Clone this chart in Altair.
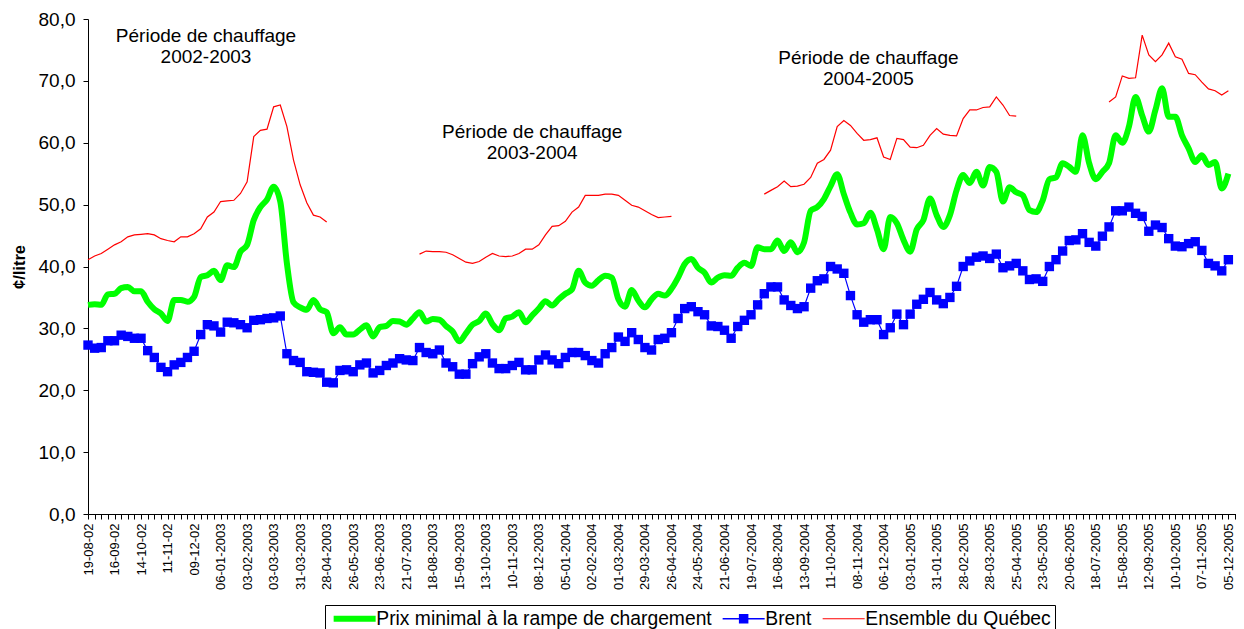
import json
import altair as alt
import pandas as pd

# ---------------- data ----------------
tick_labels = [
    "19-08-02", "16-09-02", "14-10-02", "11-11-02", "09-12-02", "06-01-2003",
    "03-02-2003", "03-03-2003", "31-03-2003", "28-04-2003", "26-05-2003",
    "23-06-2003", "21-07-2003", "18-08-2003", "15-09-2003", "13-10-2003",
    "10-11-2003", "08-12-2003", "05-01-2004", "02-02-2004", "01-03-2004",
    "29-03-2004", "26-04-2004", "24-05-2004", "21-06-2004", "19-07-2004",
    "16-08-2004", "13-09-2004", "11-10-2004", "08-11-2004", "06-12-2004",
    "03-01-2005", "31-01-2005", "28-02-2005", "28-03-2005", "25-04-2005",
    "23-05-2005", "20-06-2005", "18-07-2005", "15-08-2005", "12-09-2005",
    "10-10-2005", "07-11-2005", "05-12-2005",
]

prix_minimal = [
    33.8, 33.9, 33.8, 35.5, 35.6, 36.5, 36.7, 36.0, 36.0, 34.3,
    33.1, 32.4, 31.2, 34.6, 34.6, 34.3, 35.1, 38.3, 38.6, 39.3,
    37.8, 40.2, 39.9, 42.4, 43.5, 47.5, 49.6, 50.8, 52.9, 50.5,
    40.5, 34.2, 33.4, 33.0, 34.6, 33.1, 32.6, 29.2, 30.2, 29.0,
    29.0, 29.8, 30.5, 28.7, 30.2, 30.4, 31.2, 31.1, 30.6, 31.6,
    32.6, 31.1, 31.5, 31.4, 30.4, 29.5, 27.9, 29.2, 30.6, 31.2,
    32.4, 30.7, 29.7, 31.6, 31.9, 32.6, 31.0, 32.1, 33.2, 34.4,
    33.7, 34.7, 35.6, 36.3, 39.3, 37.4, 36.9, 37.8, 38.5, 38.2,
    34.7, 33.5, 36.2, 34.5, 33.4, 34.7, 35.6, 35.3, 36.4, 38.2,
    40.4, 41.2, 39.8, 39.0, 37.4, 38.2, 38.6, 38.5, 39.8, 40.6,
    40.1, 43.1, 42.8, 42.8, 44.2, 42.5, 43.9, 42.3, 43.9, 49.0,
    49.6, 50.9, 53.0, 54.9, 51.7, 48.7, 46.8, 47.0, 48.7, 46.0,
    42.8, 48.0, 47.0, 44.3, 42.4, 46.0, 47.5, 51.0, 48.3, 46.4,
    48.3, 52.3, 54.8, 53.5, 55.3, 53.1, 56.1, 55.3, 50.5, 52.8,
    52.0, 51.5, 49.1, 48.8, 50.7, 54.1, 54.4, 56.7, 56.1, 55.3,
    61.2, 56.7, 54.1, 55.3, 56.7, 61.2, 60.0, 62.6, 67.4, 64.4,
    61.8, 65.3, 68.8, 64.2, 64.2, 61.2, 59.1, 56.9, 58.0, 56.4,
    56.9, 52.6, 55.0,
]

brent = [
    27.3, 26.8, 26.9, 28.0, 28.0, 28.9, 28.7, 28.4, 28.4, 26.4,
    25.3, 23.7, 23.0, 24.1, 24.5, 25.3, 26.3, 29.0, 30.6, 30.4,
    29.4, 31.0, 30.9, 30.6, 30.1, 31.3, 31.4, 31.6, 31.7, 32.0,
    25.9, 24.8, 24.5, 23.0, 22.9, 22.8, 21.3, 21.2, 23.2, 23.3,
    23.0, 24.1, 24.4, 22.8, 23.2, 24.0, 24.4, 25.1, 24.9, 24.8,
    26.9, 26.1, 25.9, 26.5, 24.4, 23.8, 22.6, 22.6, 24.3, 25.4,
    25.9, 24.4, 23.5, 23.5, 24.0, 24.5, 23.3, 23.3, 24.9, 25.7,
    24.9, 24.3, 25.3, 26.1, 26.1, 25.6, 24.8, 24.4, 25.9, 26.9,
    28.6, 27.9, 29.3, 28.2, 26.9, 26.5, 28.2, 28.4, 29.3, 31.6,
    33.2, 33.5, 32.7, 32.2, 30.4, 30.3, 29.7, 28.4, 30.3, 31.3,
    32.2, 33.8, 35.6, 36.7, 36.7, 34.6, 33.7, 33.2, 33.5, 36.5,
    37.7, 38.0, 40.0, 39.6, 38.9, 35.3, 32.2, 31.0, 31.4, 31.4,
    29.0, 30.1, 32.3, 30.6, 32.3, 33.9, 34.7, 35.8, 34.6, 34.0,
    35.0, 36.8, 40.0, 40.9, 41.5, 41.7, 41.3, 42.0, 39.8, 40.1,
    40.5, 39.3, 37.9, 38.0, 37.6, 40.0, 41.1, 42.5, 44.2, 44.3,
    45.3, 43.9, 43.3, 44.9, 46.4, 49.0, 49.0, 49.6, 48.6, 48.1,
    45.7, 46.7, 46.3, 44.5, 43.3, 43.2, 43.7, 44.0, 42.6, 40.5,
    40.1, 39.3, 41.1,
]

# None = no value for that week (outside the heating periods)
ensemble_quebec = [
    41.1, 41.7, 42.1, 42.8, 43.5, 44.0, 44.8, 45.1, 45.2, 45.3,
    45.1, 44.5, 44.2, 44.0, 44.8, 44.8, 45.3, 46.1, 48.0, 48.8,
    50.5, 50.6, 50.7, 51.8, 53.7, 61.0, 62.0, 62.2, 65.8, 66.1,
    62.6, 57.2, 53.2, 50.3, 48.3, 48.0, 47.2, None, None, None,
    None, None, None, None, None, None, None, None, None, None,
    42.0, 42.5, 42.4, 42.4, 42.3, 41.9, 41.3, 40.7, 40.5, 40.8,
    41.5, 42.1, 41.7, 41.6, 41.7, 42.1, 42.8, 42.8, 43.5, 45.1,
    46.5, 46.6, 47.3, 48.8, 49.6, 51.5, 51.5, 51.5, 51.7, 51.7,
    51.5, 50.7, 49.9, 49.6, 49.0, 48.4, 47.9, 48.0, 48.1, None,
    None, None, None, None, None, None, None, None, None, None,
    None, None, 51.7, 52.3, 52.9, 53.8, 52.9, 53.0, 53.3, 54.4,
    56.7, 57.3, 58.8, 62.6, 63.6, 62.8, 61.5, 60.4, 60.5, 60.8,
    57.7, 57.3, 60.7, 60.5, 59.3, 59.2, 59.6, 61.2, 62.3, 61.4,
    61.2, 61.1, 63.9, 65.3, 65.3, 65.7, 65.8, 67.4, 66.1, 64.4,
    64.3, None, None, None, None, None, None, None, None, None,
    None, None, None, None, 66.6, 67.4, 70.8, 70.4, 70.5, 77.4,
    74.2, 73.1, 74.2, 76.1, 73.9, 73.5, 71.2, 71.0, 69.8, 68.7,
    68.4, 67.7, 68.4,
]

series_names = ["Prix minimal à la rampe de chargement", "Brent", "Ensemble du Québec"]
series_colors = ["#00FF00", "#0000FF", "#FF0000"]

note_texts = [
    "Période de chauffage\n2002-2003",
    "Période de chauffage\n2003-2004",
    "Période de chauffage\n2004-2005",
]
note_weeks = [17.8, 67.0, 117.7]
note_values = [76.3, 60.7, 72.7]

# legend symbols (line, line + square, thin line)
symbol_paths = [
    "M-1,-0.6H7.4V0.6H-1Z",
    "M-1,-0.15H7.4V0.15H-1Z M2.25,-0.95H4.15V0.95H2.25Z",
    "M-1,-0.1H7.4V0.1H-1Z",
]

# ---------------- tables ----------------
n = len(brent)
weeks = list(range(n))
df_green = pd.DataFrame({"week": weeks, "value": prix_minimal})
df_brent = pd.DataFrame({"week": weeks, "value": brent})
df_red = pd.DataFrame({"week": weeks, "value": ensemble_quebec})
df_red["seg"] = df_red["value"].isna().cumsum()
df_red = df_red.dropna()
df_notes = pd.DataFrame({"week": note_weeks, "value": note_values, "text": note_texts})
df_legend = pd.DataFrame({"series": series_names})

labels_js = json.dumps(tick_labels)

x_enc = alt.X(
    "week:Q",
    scale=alt.Scale(domain=[0, 173.15], nice=False, zero=False),
    axis=alt.Axis(
        values=list(range(n + 1)),
        labelExpr=f"datum.value % 4 == 0 && datum.value / 4 < {len(tick_labels)} ? {labels_js}[datum.value / 4] : ''",
        labelAngle=270,
        labelFontSize=13,
        labelPadding=4,
        labelOverlap=False,
        labelFlush=False,
        labelColor="black",
        tickSize=5,
        tickColor="black",
        domainColor="black",
        grid=False,
        title=None,
    ),
)
y_enc = alt.Y(
    "value:Q",
    scale=alt.Scale(domain=[0, 80], nice=False),
    axis=alt.Axis(
        values=[0, 10, 20, 30, 40, 50, 60, 70, 80],
        labelExpr="replace(format(datum.value, '.1f'), '.', ',')",
        labelFontSize=19,
        labelColor="black",
        labelPadding=8,
        tickSize=5,
        tickColor="black",
        domainColor="black",
        grid=False,
        title="¢/litre",
        titleFontSize=16.5,
        titleFontWeight="bold",
        titleColor="black",
        titlePadding=11,
    ),
)

red_line = alt.Chart(df_red).mark_line(color="#FF0000", strokeWidth=1.2).encode(
    x=x_enc, y=y_enc, detail="seg:N"
)
green_line = alt.Chart(df_green).mark_line(
    color="#00FF00", strokeWidth=6, interpolate="monotone"
).encode(x=x_enc, y=y_enc)
blue_line = alt.Chart(df_brent).mark_line(color="#0000FF", strokeWidth=1.2).encode(
    x=x_enc, y=y_enc
)
blue_pts = alt.Chart(df_brent).mark_point(
    shape="square", filled=True, size=88, color="#0000FF", opacity=1
).encode(x=x_enc, y=y_enc)
notes = alt.Chart(df_notes).mark_text(
    align="center", baseline="alphabetic", lineBreak="\n", lineHeight=21,
    fontSize=19, color="black"
).encode(x=x_enc, y=y_enc, text="text:N")

leg = alt.Legend(
    orient="none", legendX=237, legendY=586, direction="horizontal", columns=3,
    title=None, labelFontSize=19.3, labelColor="black", labelLimit=600,
    symbolSize=100, symbolStrokeWidth=0, symbolOpacity=1, labelOffset=28,
    columnPadding=6, padding=4, strokeColor="black", fillColor="white",
)
legend_layer = alt.Chart(df_legend).transform_filter("false").mark_point(
    filled=True, opacity=1
).encode(
    shape=alt.Shape("series:N", scale=alt.Scale(domain=series_names, range=symbol_paths), legend=leg),
    color=alt.Color("series:N", scale=alt.Scale(domain=series_names, range=series_colors), legend=leg),
)

chart = alt.layer(red_line, green_line, blue_line, blue_pts, notes, legend_layer).properties(
    width=1148,
    height=495,
    autosize=alt.AutoSizeParams(type="none"),
    padding={"left": 80, "top": 11, "right": 0, "bottom": 119},
    background="white",
).configure(font="Liberation Sans").configure_view(strokeWidth=0)

chart.save("out.html", embed_options={"renderer": "svg", "actions": False})
